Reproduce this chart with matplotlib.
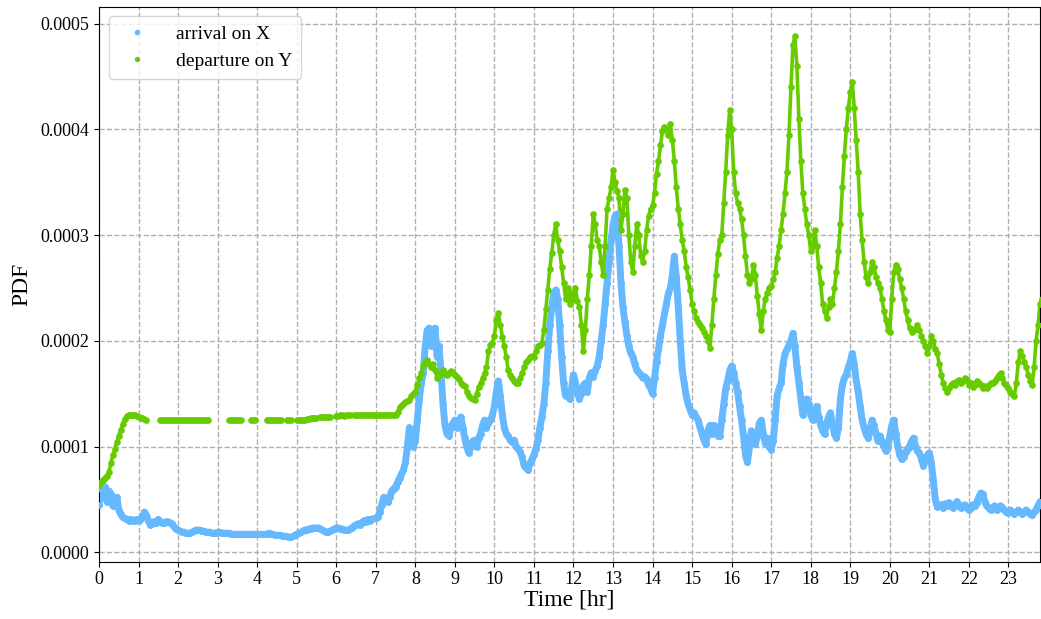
import matplotlib

matplotlib.use("Agg")
import matplotlib.pyplot as plt
import matplotlib as mpl
import numpy as np
from matplotlib.ticker import FormatStrFormatter, MultipleLocator

### Data: PDF sampled every 3 minutes, values in units of 1e-6
SAMPLE_STEP_HR = 0.05
PDF_UNIT = 1e-6

# fmt: off
arrival_on_x = [
    45, 60, 52, 62, 48, 58, 55, 44, 50, 52, 40, 36, 33, 32, 31, 30, 31, 30, 30, 31,
    30, 31, 34, 38, 35, 30, 26, 27, 29, 28, 31, 29, 28, 28, 29, 29, 28, 27, 24, 22,
    21, 20, 19, 19, 18, 18, 18, 19, 20, 21, 21, 21, 20, 20, 19, 19, 19, 18, 18, 18,
    19, 19, 18, 18, 18, 18, 18, 17, 17, 17, 17, 17, 17, 17, 17, 17, 17, 17, 17, 17,
    17, 17, 17, 17, 17, 17, 18, 17, 17, 16, 16, 16, 16, 15, 15, 15, 14, 14, 15, 16,
    17, 18, 19, 20, 21, 21, 22, 22, 23, 23, 23, 23, 22, 21, 20, 19, 19, 20, 21, 22,
    23, 23, 22, 22, 21, 21, 21, 22, 23, 25, 26, 27, 26, 28, 30, 29, 31, 30, 31, 32,
    32, 33, 38, 45, 52, 50, 48, 52, 58, 60, 62, 66, 70, 74, 78, 85, 100, 118, 110, 100,
    105, 125, 145, 160, 170, 195, 210, 212, 195, 210, 212, 185, 195, 170, 140, 120, 112, 110, 118, 122,
    125, 118, 122, 128, 118, 108, 100, 94, 100, 105, 106, 100, 108, 112, 120, 125, 118, 122, 125, 130,
    138, 152, 162, 148, 130, 118, 112, 110, 106, 104, 106, 100, 98, 95, 90, 82, 80, 78, 84, 88,
    92, 98, 106, 118, 128, 140, 160, 190, 215, 232, 245, 248, 240, 215, 185, 160, 148, 150, 145, 155,
    168, 160, 150, 145, 150, 158, 160, 152, 165, 170, 166, 172, 176, 185, 200, 215, 235, 255, 275, 295,
    310, 318, 320, 290, 255, 232, 218, 205, 195, 188, 185, 178, 172, 170, 168, 165, 166, 164, 158, 155,
    150, 165, 180, 192, 205, 215, 225, 235, 245, 250, 262, 280, 260, 232, 200, 172, 160, 148, 140, 135,
    130, 132, 128, 125, 118, 112, 106, 102, 115, 120, 112, 120, 116, 110, 110, 125, 140, 155, 162, 172,
    176, 170, 160, 152, 138, 125, 110, 92, 85, 100, 115, 110, 102, 110, 122, 125, 112, 103, 108, 100,
    97, 105, 125, 148, 155, 160, 178, 188, 192, 196, 200, 207, 195, 175, 160, 145, 130, 135, 145, 140,
    130, 125, 132, 138, 128, 120, 115, 112, 122, 128, 132, 120, 112, 108, 118, 145, 158, 165, 168, 175,
    180, 188, 178, 162, 152, 138, 125, 118, 112, 108, 115, 125, 120, 112, 105, 110, 105, 100, 96, 100,
    110, 120, 125, 112, 100, 92, 88, 90, 95, 98, 100, 105, 108, 100, 96, 94, 88, 82, 86, 92,
    94, 85, 68, 50, 43, 44, 45, 42, 46, 44, 47, 44, 42, 45, 48, 44, 42, 44, 45, 42,
    40, 42, 45, 44, 47, 52, 56, 55, 48, 44, 42, 40, 42, 44, 40, 42, 44, 42, 40, 38,
    37, 40, 38, 36, 38, 40, 38, 36, 38, 40, 38, 36, 35, 38, 40, 44, 48, 45, 42, 40,
]

# None marks stretches without departures
departure_on_y = [
    64, 66, 68, 70, 72, 76, 84, 92, 98, 104, 110, 116, 121, 126, 129, 130, 130, 130, 130, 129,
    128, 127, 127, 126, 125, None, None, None, None, None, None, 125, 125, 125, 125, 125, 125, 125, 125, 125,
    125, 125, 125, 125, 125, 125, 125, 125, 125, 125, 125, 125, 125, 125, 125, 125, None, None, None, None,
    None, None, None, None, None, None, 125, 125, 125, 125, 125, 125, 125, None, None, None, None, 125, 125, 125,
    None, None, None, None, None, 125, 125, 125, 125, 125, 125, 125, 125, None, None, 125, 125, 125, None, None,
    125, 125, 125, 125, 125, 126, 126, 127, 127, 127, 127, None, 128, 128, 128, 128, 128, 128, None, None,
    129, 129, 130, 130, 129, 130, 130, 130, None, 130, 130, 130, 130, 130, 130, 130, 130, 130, 130, 130,
    130, 130, 130, 130, 130, 130, 130, 130, 130, 130, 130, 133, 137, 138, 140, 142, 143, 144, 148, 150,
    152, 158, 165, 170, 176, 180, 182, 178, 175, 178, 172, 165, 168, 170, 172, 170, 168, 170, 171, 170,
    168, 166, 164, 160, 158, 157, 152, 148, 146, 145, 144, 150, 156, 160, 165, 170, 175, 190, 196, 198,
    205, 220, 226, 215, 204, 195, 185, 172, 168, 165, 162, 160, 160, 165, 170, 175, 180, 182, 185, 186,
    185, 190, 195, 196, 198, 210, 230, 248, 268, 283, 300, 310, 295, 285, 270, 255, 240, 250, 235, 245,
    240, 250, 238, 232, 215, 190, 210, 240, 262, 290, 320, 310, 295, 290, 275, 262, 290, 325, 335, 345,
    362, 350, 342, 335, 305, 320, 343, 335, 300, 275, 265, 290, 310, 300, 280, 275, 285, 305, 318, 325,
    328, 340, 358, 370, 385, 398, 402, 400, 395, 405, 390, 370, 345, 325, 310, 295, 285, 270, 260, 248,
    235, 228, 222, 218, 215, 212, 208, 205, 200, 193, 215, 240, 262, 282, 295, 300, 330, 360, 395, 418,
    400, 360, 340, 330, 325, 315, 300, 280, 262, 255, 258, 272, 262, 242, 225, 210, 228, 240, 245, 250,
    252, 258, 265, 278, 290, 305, 320, 340, 360, 395, 440, 480, 488, 460, 410, 370, 340, 325, 310, 300,
    285, 290, 305, 290, 270, 255, 235, 228, 222, 232, 240, 235, 250, 265, 285, 310, 345, 375, 400, 420,
    435, 445, 420, 390, 360, 320, 295, 275, 260, 255, 265, 275, 270, 260, 255, 250, 240, 228, 220, 210,
    208, 240, 265, 272, 268, 258, 250, 240, 228, 220, 212, 208, 210, 212, 215, 210, 205, 200, 195, 188,
    195, 205, 200, 192, 188, 178, 168, 160, 155, 152, 155, 158, 160, 158, 162, 163, 160, 162, 165, 163,
    158, 160, 156, 158, 162, 160, 158, 155, 157, 155, 158, 160, 160, 162, 165, 168, 170, 165, 160, 158,
    155, 152, 150, 148, 160, 180, 190, 186, 180, 175, 168, 162, 158, 175, 200, 215, 235, 240, 240, 240,
]
# fmt: on

# label, values, colour, trace width (pt), marker size (pt)
SERIES = [
    ("arrival on X", arrival_on_x, "#66b8ff", 5.0, 5.0),
    ("departure on Y", departure_on_y, "#66cc00", 2.6, 4.8),
]

### Plot style
FIGSIZE = (10.41, 6.19)
DPI = 100
GRID_COLOR = "#b0b0b0"

mpl.rcParams["font.family"] = "serif"
mpl.rcParams["font.serif"] = ["Liberation Serif", "DejaVu Serif"]
mpl.rcParams["xtick.labelsize"] = 13
mpl.rcParams["ytick.labelsize"] = 13
mpl.rcParams["axes.labelsize"] = 17
mpl.rcParams["legend.fontsize"] = 14


def main():
    fig = plt.figure(figsize=FIGSIZE, dpi=DPI)
    ax = fig.add_axes([0.0951, 0.0926, 0.904, 0.8966])

    for label, values, color, trace_width, marker_size in SERIES:
        pdf = np.array(values, dtype=float) * PDF_UNIT
        hours = np.arange(len(pdf)) * SAMPLE_STEP_HR
        # trace under the samples so steep stretches stay connected
        ax.plot(hours, pdf, color=color, lw=trace_width, solid_capstyle="round", zorder=2)
        ax.plot(
            hours, pdf, linestyle="none", marker="o", ms=marker_size, mew=0,
            color=color, label=label, zorder=3,
        )

    ax.set_xlim(0, 23.8)
    ax.set_ylim(-8.9e-6, 5.16e-4)
    ax.xaxis.set_major_locator(MultipleLocator(1))
    ax.yaxis.set_major_locator(MultipleLocator(1e-4))
    ax.yaxis.set_major_formatter(FormatStrFormatter("%.4f"))
    ax.grid(True, linestyle="--", color=GRID_COLOR, lw=1)
    ax.set_axisbelow(True)

    ax.set_xlabel("Time [hr]", labelpad=1)
    ax.set_ylabel("PDF", labelpad=6)
    ax.legend(loc="upper left", markerscale=0.8, handletextpad=1.0, borderpad=0.45)

    fig.savefig("out.png", dpi=DPI)


if __name__ == "__main__":
    main()
